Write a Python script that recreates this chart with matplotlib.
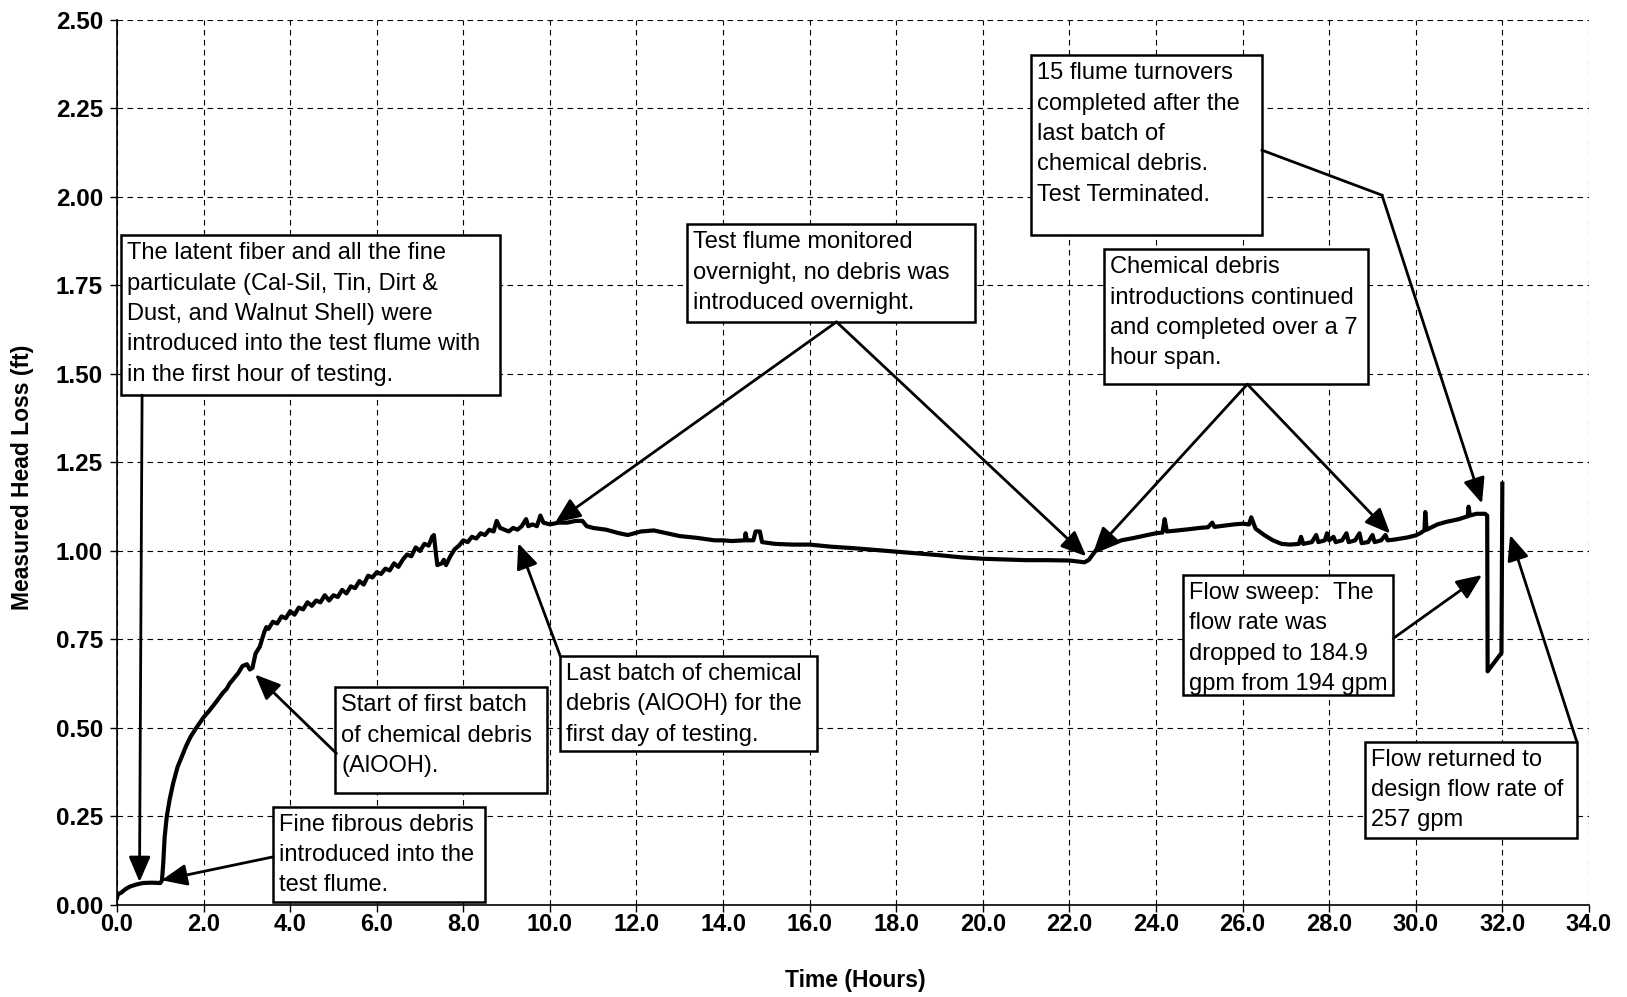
import numpy as np
import matplotlib
matplotlib.use("Agg")
import matplotlib.pyplot as plt
from matplotlib.patches import Rectangle
import matplotlib.transforms as mtransforms

# ---------------- data ----------------
time_h = [0.0, 0.02, 0.1, 0.2, 0.3, 0.45, 0.6, 0.8, 1.0, 1.04, 1.07, 1.1, 1.15, 1.22,
          1.3, 1.4, 1.5, 1.6, 1.7, 1.83, 2.0, 2.14, 2.3, 2.45, 2.53, 2.6, 2.7, 2.8,
          2.9, 3.0, 3.07, 3.13, 3.2, 3.3, 3.4, 3.45, 3.5, 3.6, 3.7, 3.8, 3.9, 4.0,
          4.1, 4.2, 4.3, 4.4, 4.5, 4.6, 4.7, 4.8, 4.9, 5.0, 5.1, 5.2, 5.3, 5.4, 5.5,
          5.6, 5.7, 5.8, 5.9, 6.0, 6.1, 6.2, 6.3, 6.4, 6.5, 6.6, 6.7, 6.8, 6.9, 7.0,
          7.1, 7.2, 7.28, 7.32, 7.36, 7.4, 7.5, 7.55, 7.6, 7.7, 7.8, 7.9, 8.0, 8.1,
          8.2, 8.3, 8.4, 8.5, 8.6, 8.7, 8.77, 8.85, 8.95, 9.05, 9.15, 9.25, 9.35,
          9.45, 9.5, 9.6, 9.7, 9.78, 9.85, 10.0, 10.2, 10.4, 10.6, 10.75, 10.85,
          11.0, 11.3, 11.6, 11.8, 12.1, 12.4, 12.7, 13.0, 13.4, 13.8, 14.0, 14.2,
          14.5, 14.52, 14.55, 14.7, 14.75, 14.85, 14.9, 15.2, 15.6, 16.0, 16.5,
          17.0, 17.5, 18.0, 18.5, 19.0, 19.5, 20.0, 20.5, 21.0, 21.5, 22.0, 22.2,
          22.35, 22.45, 22.6, 22.8, 23.0, 23.2, 23.5, 23.8, 24.0, 24.15, 24.2, 24.25,
          24.5, 24.8, 25.0, 25.2, 25.3, 25.35, 25.6, 25.8, 26.0, 26.15, 26.2, 26.3,
          26.5, 26.7, 26.9, 27.1, 27.3, 27.35, 27.4, 27.6, 27.7, 27.75, 27.9, 27.95,
          28.0, 28.1, 28.15, 28.3, 28.4, 28.45, 28.6, 28.7, 28.75, 28.9, 29.0, 29.05,
          29.2, 29.3, 29.35, 29.5, 29.8, 30.0, 30.1, 30.2, 30.22, 30.25, 30.5, 30.7,
          31.0, 31.2, 31.22, 31.25, 31.4, 31.6, 31.65, 31.66, 31.98, 32.0]
head_loss_ft = [0.02, 0.03, 0.035, 0.045, 0.052, 0.058, 0.062, 0.063, 0.062, 0.07, 0.12,
                0.19, 0.25, 0.30, 0.345, 0.39, 0.42, 0.45, 0.475, 0.50, 0.53, 0.55, 0.575,
                0.60, 0.61, 0.625, 0.64, 0.655, 0.675, 0.68, 0.665, 0.67, 0.71, 0.73, 0.77,
                0.785, 0.78, 0.80, 0.795, 0.815, 0.81, 0.83, 0.82, 0.84, 0.835, 0.855,
                0.845, 0.86, 0.855, 0.875, 0.86, 0.875, 0.87, 0.89, 0.88, 0.90, 0.895,
                0.915, 0.905, 0.93, 0.925, 0.94, 0.935, 0.95, 0.945, 0.965, 0.955, 0.975,
                0.99, 0.985, 1.01, 1.0, 1.02, 1.015, 1.04, 1.045, 1.0, 0.96, 0.965, 0.975,
                0.96, 0.985, 1.005, 1.015, 1.03, 1.025, 1.04, 1.035, 1.05, 1.045, 1.06,
                1.055, 1.085, 1.065, 1.06, 1.055, 1.065, 1.06, 1.07, 1.09, 1.07, 1.075,
                1.07, 1.10, 1.08, 1.075, 1.08, 1.08, 1.085, 1.085, 1.07, 1.065, 1.06,
                1.05, 1.045, 1.055, 1.058, 1.05, 1.042, 1.037, 1.03, 1.03, 1.028, 1.03,
                1.05, 1.03, 1.03, 1.055, 1.055, 1.025, 1.02, 1.018, 1.018, 1.012, 1.008,
                1.003, 0.998, 0.993, 0.988, 0.982, 0.978, 0.976, 0.974, 0.974, 0.973,
                0.97, 0.968, 0.975, 1.0, 1.01, 1.02, 1.03, 1.037, 1.045, 1.05, 1.052,
                1.09, 1.055, 1.058, 1.062, 1.065, 1.067, 1.08, 1.068, 1.072, 1.075, 1.077,
                1.075, 1.095, 1.063, 1.045, 1.03, 1.02, 1.018, 1.02, 1.04, 1.02, 1.025,
                1.045, 1.025, 1.03, 1.05, 1.03, 1.04, 1.025, 1.03, 1.05, 1.025, 1.03,
                1.05, 1.022, 1.025, 1.045, 1.025, 1.03, 1.045, 1.03, 1.032, 1.038, 1.044,
                1.05, 1.058, 1.11, 1.06, 1.075, 1.082, 1.09, 1.098, 1.125, 1.10, 1.105,
                1.105, 1.10, 0.66, 0.712, 1.19]

x_tick_values = [0, 2, 4, 6, 8, 10, 12, 14, 16, 18, 20, 22, 24, 26, 28, 30, 32, 34]
x_tick_labels = ["0.0", "2.0", "4.0", "6.0", "8.0", "10.0", "12.0", "14.0", "16.0",
                 "18.0", "20.0", "22.0", "24.0", "26.0", "28.0", "30.0", "32.0", "34.0"]
y_tick_values = [0.0, 0.25, 0.5, 0.75, 1.0, 1.25, 1.5, 1.75, 2.0, 2.25, 2.5]
y_tick_labels = ["0.00", "0.25", "0.50", "0.75", "1.00", "1.25", "1.50", "1.75",
                 "2.00", "2.25", "2.50"]

x_title = "Time (Hours)"
y_title = "Measured Head Loss (ft)"

note_texts = [
    "The latent fiber and all the fine\nparticulate (Cal-Sil, Tin, Dirt &\nDust, and Walnut Shell) were\nintroduced into the test flume with\nin the first hour of testing.",
    "Fine fibrous debris\nintroduced into the\ntest flume.",
    "Start of first batch\nof chemical debris\n(AlOOH).",
    "Last batch of chemical\ndebris (AlOOH) for the\nfirst day of testing.",
    "Test flume monitored\novernight, no debris was\nintroduced overnight.",
    "Chemical debris\nintroductions continued\nand completed over a 7\nhour span.",
    "15 flume turnovers\ncompleted after the\nlast batch of\nchemical debris.\nTest Terminated.",
    "Flow sweep:  The\nflow rate was\ndropped to 184.9\ngpm from 194 gpm",
    "Flow returned to\ndesign flow rate of\n257 gpm",
]
# box extents (data coords)
box_left = [0.10, 3.61, 5.04, 10.24, 13.16, 22.80, 21.12, 24.62, 28.83]
box_right = [8.85, 8.49, 9.93, 16.16, 19.83, 28.89, 26.45, 29.48, 33.72]
box_bottom = [1.440, 0.009, 0.315, 0.434, 1.647, 1.471, 1.893, 0.592, 0.188]
box_top = [1.892, 0.278, 0.615, 0.703, 1.923, 1.852, 2.400, 0.932, 0.461]

# arrows: (tail, tip) in data coords
arrow_tail = [(0.58, 1.440), (3.61, 0.136), (5.07, 0.428), (10.24, 0.703),
              (16.62, 1.647), (16.62, 1.647), (26.11, 1.471), (26.11, 1.471),
              (29.22, 2.005), (29.48, 0.753), (33.72, 0.461)]
arrow_tip = [(0.52, 0.065), (1.03, 0.070), (3.19, 0.651), (9.27, 1.022),
             (10.12, 1.080), (22.39, 0.985), (22.55, 0.995), (29.41, 1.049),
             (31.53, 1.134), (31.53, 0.932), (32.18, 1.045)]
leader_line_t = [26.45, 29.22]
leader_line_v = [2.132, 2.005]

# ---------------- figure ----------------
plt.rcParams['font.family'] = ['Liberation Sans', 'DejaVu Sans']
fig = plt.figure(figsize=(16.27, 9.97), dpi=100)
ax = fig.add_axes([0.0719, 0.0923, 0.9047, 0.8877])

ax.plot(time_h, head_loss_ft, color='black', lw=3.0, solid_joinstyle='round', zorder=3)

ax.set_xlim(0, 34)
ax.set_ylim(0, 2.5)
ax.set_xticks(x_tick_values)
ax.set_xticklabels(x_tick_labels, fontsize=17, fontweight='bold')
ax.set_yticks(y_tick_values)
ax.set_yticklabels(y_tick_labels, fontsize=17.5, fontweight='bold')
ax.tick_params(axis='both', direction='out', length=5, width=1, colors='black')
ax.tick_params(axis='x', pad=1)
ax.tick_params(axis='y', pad=5)
ax.grid(True, color='black', linestyle=(0, (5, 4)), lw=0.8, zorder=0)
ax.set_axisbelow(True)
for s in ['top', 'right']:
    ax.spines[s].set_visible(False)
for s in ['left', 'bottom']:
    ax.spines[s].set_linewidth(1.2)

fig.text(0.526, 0.0166, x_title, ha='center', va='center', fontsize=16.5, fontweight='bold')
fig.text(0.0141, 0.5216, y_title, ha='center', va='center', rotation=90,
         fontsize=16.5, fontweight='bold')

for txt, x0, x1, y0, y1 in zip(note_texts, box_left, box_right, box_bottom, box_top):
    ax.add_patch(Rectangle((x0, y0), x1 - x0, y1 - y0, facecolor='white',
                           edgecolor='black', lw=1.8, zorder=5))
    tt = mtransforms.offset_copy(ax.transData, fig=fig, x=6, y=-7, units='dots')
    ax.text(x0, y1, txt, transform=tt, ha='left', va='top', fontsize=17,
            linespacing=1.49, zorder=6)

ax.plot(leader_line_t, leader_line_v, color='black', lw=2.0, zorder=7)
for tail, tip in zip(arrow_tail, arrow_tip):
    ax.annotate('', xy=tip, xytext=tail, zorder=7,
                arrowprops=dict(arrowstyle='-|>,head_length=0.7,head_width=0.3',
                                mutation_scale=22, lw=2.0, color='black',
                                shrinkA=0, shrinkB=0))

fig.savefig('out.png', dpi=100, facecolor='white')
